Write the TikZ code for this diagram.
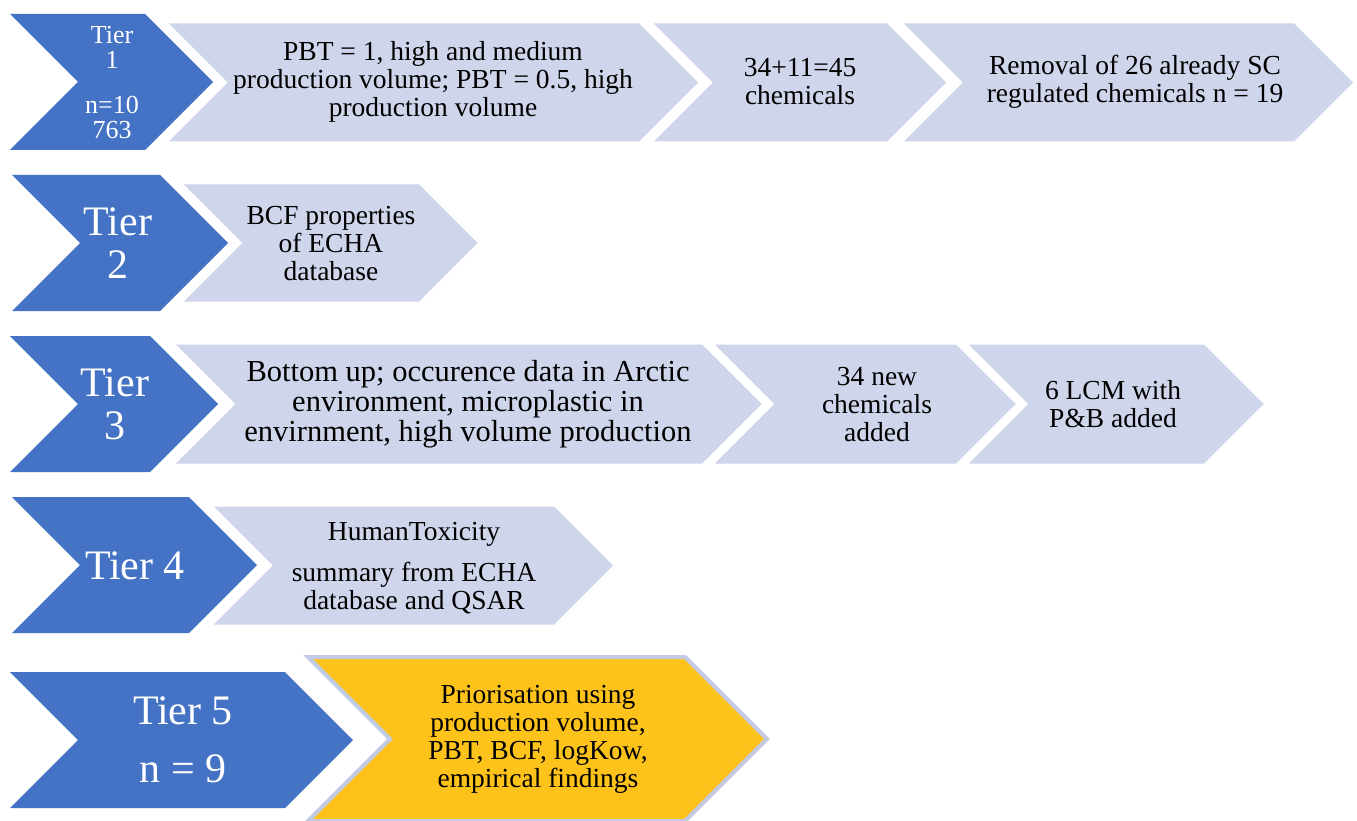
\documentclass[tikz,border=0pt]{standalone}
\usepackage{fontspec}
\setmainfont{Liberation Serif}
\definecolor{tierblue}{HTML}{4472C4}
\definecolor{lav}{HTML}{CFD5EA}
\definecolor{lavedge}{HTML}{C3CAE3}
\definecolor{gold}{HTML}{FEC31B}
\newcommand\chev[5]{%
  \pgfmathsetmacro\chd{(#4-#3)/2}\pgfmathsetmacro\chm{(#3+#4)/2}%
  \draw[#5] (#1,#3) -- (#2,#3) -- ({#2+\chd},\chm) -- (#2,#4) -- (#1,#4) -- ({#1+\chd},\chm) -- cycle;}
\tikzset{
  bluechev/.style={fill=tierblue,draw=none},
  lavchev/.style={fill=lav,draw=white,line width=3pt,line join=miter},
  goldchev/.style={fill=gold,draw=lavedge,line width=4pt,line join=miter},
  tiertxt/.style={text=white,align=center,inner sep=0pt,font=\fontsize{42}{43}\selectfont},
  tiersmall/.style={text=white,align=center,inner sep=0pt,font=\fontsize{26}{25}\selectfont},
  boxtxt/.style={text=black,align=center,inner sep=0pt,font=\fontsize{27.5}{28}\selectfont},
}
\begin{document}
\begin{tikzpicture}[x=1pt,y=-1pt]
\fill[white] (0,0) rectangle (1357,821);
\useasboundingbox (0,0) rectangle (1357,821);
% Row 1
\chev{10}{145}{14}{150}{bluechev}
\chev{165}{640}{22}{143}{lavchev}
\chev{650}{888}{22}{143}{lavchev}
\chev{900}{1295}{22}{143}{lavchev}
\node[tiersmall] (t1) at (112,83) {Tier\\1\\[20pt]n=10\\763};
\node[boxtxt] (r1a) at (433,82) {PBT = 1, high and medium\\production volume; PBT = 0.5, high\\production volume};
\node[boxtxt] (r1b) at (800,82) {34+11=45\\chemicals};
\node[boxtxt] (r1c) at (1135,82) {Removal of 26 already SC\\regulated chemicals n = 19};
% Row 2
\chev{12}{160}{175}{311}{bluechev}
\chev{180}{420}{183}{303}{lavchev}
\node[tiertxt] (t2) at (118,243) {Tier\\2};
\node[boxtxt] (r2a) at (331,244) {BCF properties\\of ECHA\\database};
% Row 3
\chev{10}{150}{336}{472}{bluechev}
\chev{172}{703}{343}{465}{lavchev}
\chev{711}{957}{343}{465}{lavchev}
\chev{965}{1205}{343}{465}{lavchev}
\node[tiertxt] (t3) at (115,404) {Tier\\3};
\node[boxtxt,font=\fontsize{30.5}{30}\selectfont] (r3a) at (468,404) {Bottom up; occurence data in Arctic\\environment, microplastic in\\envirnment, high volume production};
\node[boxtxt] (r3b) at (877,405) {34 new\\chemicals\\added};
\node[boxtxt] (r3c) at (1113,404) {6 LCM with\\P\&B added};
% Row 4
\chev{12}{189}{497}{633}{bluechev}
\chev{210}{555}{505}{626}{lavchev}
\node[tiertxt] (t4) at (135,566) {Tier 4};
\node[boxtxt] (r4a) at (414,568) {HumanToxicity\\[13pt]summary from ECHA\\database and QSAR};
% Row 5
\chev{10}{285}{672}{808}{bluechev}
\chev{308}{685}{657}{821}{goldchev}
\node[tiertxt,font=\fontsize{42}{58}\selectfont] (t5) at (183,740) {Tier 5\\n = 9};
\node[boxtxt] (r5a) at (538,739) {Priorisation using\\production volume,\\PBT, BCF, logKow,\\empirical findings};
\end{tikzpicture}
\end{document}
